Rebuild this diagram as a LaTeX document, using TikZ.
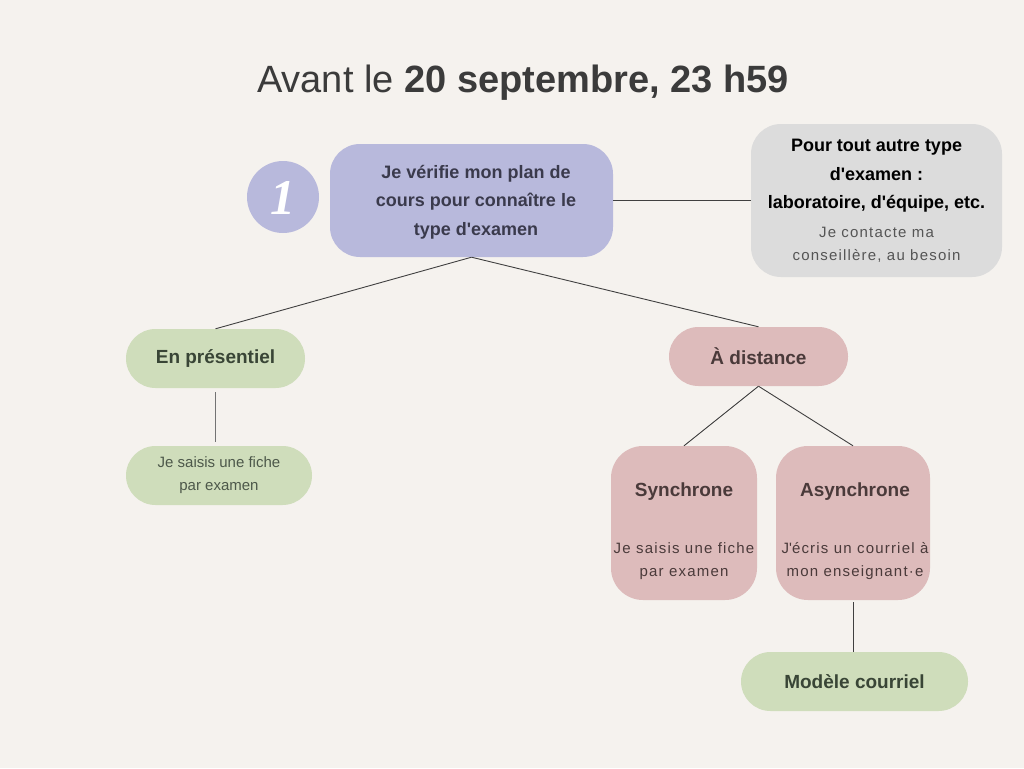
\documentclass[tikz,border=0pt]{standalone}
\usepackage{fontspec}
\setmainfont{Liberation Sans}
\newfontfamily\numfont{Liberation Serif}
\newfontfamily\spacedfont[LetterSpace=8]{Liberation Sans}
\definecolor{bgc}{HTML}{F5F2EE}
\definecolor{purp}{HTML}{B8B9DC}
\definecolor{greyb}{HTML}{DCDCDC}
\definecolor{grn}{HTML}{CFDDBB}
\definecolor{pnk}{HTML}{DDBBBB}
\definecolor{txt}{HTML}{3B3B3B}
\definecolor{ptxt}{HTML}{3A3A4C}
\definecolor{gtxt}{HTML}{394536}
\definecolor{rtxt}{HTML}{4A3A3A}
\definecolor{lgrey}{HTML}{555555}
\newcommand{\apos}{\textquotesingle}
\tikzset{
  box/.style={draw=none, rounded corners=#1, inner sep=0pt, align=center},
  box/.default=29pt,
  conn/.style={draw=black!75, line width=0.9pt},
  bold18/.style={font=\fontsize{18}{28.5}\selectfont\bfseries},
  reg15/.style={font=\fontsize{15}{23}\selectfont, align=center},
  sp15/.style={font=\spacedfont\fontsize{15}{23}\selectfont, align=center},
}
\begin{document}
\begin{tikzpicture}[x=1pt,y=-1pt]
\fill[bgc] (0,0) rectangle (1024,768);
\useasboundingbox (0,0) rectangle (1024,768);

\node[font=\fontsize{38}{44}\selectfont, text=txt, anchor=base] (title) at (523,92)
  {Avant le \textbf{20 septembre, 23 h59}};

% main node
\node[box=30pt, fill=purp, minimum width=283pt, minimum height=113pt] (plan) at (471.5,200.5) {};
\node[bold18, text=ptxt, align=center] (plant) at (476,202) {Je vérifie mon plan de\\cours pour connaître le\\type d\apos examen};
\node[circle, fill=purp, minimum size=72pt, inner sep=0pt] (one) at (283,197) {};
\node[text=white, font=\fontsize{50}{50}\selectfont\numfont\bfseries\itshape] (onet) at (283,198) {1};

% grey node
\node[box=30pt, fill=greyb, minimum width=251pt, minimum height=153pt] (autre) at (876.5,200.5) {};
\node[bold18, text=black, align=center] (autret) at (876.5,176) {Pour tout autre type\\d\apos examen :\\laboratoire, d\apos équipe, etc.};
\node[sp15, text=lgrey] (autreb) at (876.5,245) {Je contacte ma\\conseillère, au besoin};

% green presentiel
\node[box=29.5pt, fill=grn, minimum width=179pt, minimum height=59pt, font=\fontsize{19}{23}\selectfont\bfseries, text=gtxt] (pres) at (215.5,358.5) {En présentiel};
\node[box=29.5pt, fill=grn, minimum width=186pt, minimum height=59pt, reg15, text=gtxt!90] (fiche) at (219,475.5) {Je saisis une fiche\\par examen};

% pink distance
\node[box=29.5pt, fill=pnk, minimum width=179pt, minimum height=59pt, font=\fontsize{19}{23}\selectfont\bfseries, text=rtxt] (dist) at (758.5,356.5) {À distance};

\node[box=32pt, fill=pnk, minimum width=146pt, minimum height=154pt] (sync) at (684,523) {};
\node[font=\fontsize{19}{23}\selectfont\bfseries, text=rtxt] (synct) at (684,492) {Synchrone};
\node[sp15, text=rtxt] (syncb) at (684,561) {Je saisis une fiche\\par examen};

\node[box=32pt, fill=pnk, minimum width=154pt, minimum height=154pt] (async) at (853,523) {};
\node[font=\fontsize{19}{23}\selectfont\bfseries, text=rtxt] (asynct) at (855,492) {Asynchrone};
\node[sp15, text=rtxt] (asyncb) at (855,561) {J\apos écris un courriel à\\mon enseignant·e};

\node[box=29.5pt, fill=grn, minimum width=227pt, minimum height=59pt, font=\fontsize{19}{23}\selectfont\bfseries, text=gtxt] (modele) at (854.5,681.5) {Modèle courriel};

% connectors
\draw[conn] (plan.east) -- (autre.west);
\draw[conn] (plan.south) -- (pres.north);
\draw[conn] (plan.south) -- (dist.north);
\draw[conn, draw=black!55, shorten <=4pt, shorten >=4pt] (pres.south) -- (pres.south |- fiche.north);
\draw[conn] (dist.south) -- (sync.north);
\draw[conn] (dist.south) -- (async.north);
\draw[conn, shorten <=2pt] (async.south) -- (async.south |- modele.north);
\end{tikzpicture}
\end{document}
